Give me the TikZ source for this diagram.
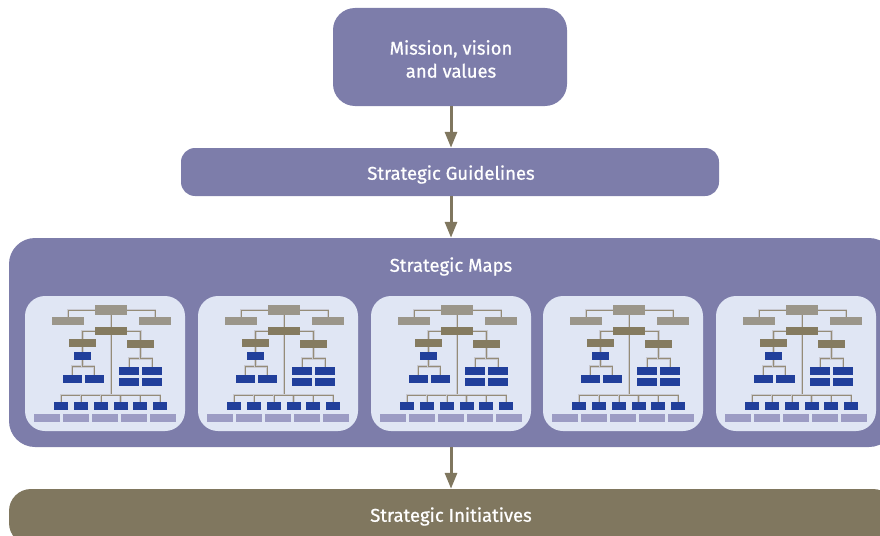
\documentclass[tikz,border=0pt]{standalone}
\usepackage{fontspec}
\setmainfont{Fira Sans}
\newfontfamily\labelfont{Fira Sans}[FakeBold=0.7]
\usetikzlibrary{arrows.meta}
\definecolor{stratpurple}{HTML}{7D7DAA}
\definecolor{stratolive}{HTML}{80775F}
\definecolor{panelbg}{HTML}{E0E6F4}
\definecolor{minigray}{HTML}{9B968A}
\definecolor{miniolive}{HTML}{857B60}
\definecolor{miniblue}{HTML}{213F9B}
\definecolor{minilav}{HTML}{9C9CC4}
\definecolor{miniline}{HTML}{958C78}
\definecolor{minishade}{HTML}{C9CAD2}

\tikzset{
  bigbox/.style={fill=stratpurple, text=white, inner sep=0pt, align=center,
    font=\labelfont\fontsize{18.5}{23}\selectfont},
  biglabel/.style={text=white, inner sep=0pt, font=\labelfont\fontsize{18.5}{23}\selectfont},
  flow/.style={draw=stratolive, line width=3pt,
    -{Triangle[width=12pt,length=16pt]}},
  mb/.style={inner sep=0pt, minimum height=8pt},
  mgray/.style={mb, fill=minigray},
  molive/.style={mb, fill=miniolive},
  mblue/.style={mb, fill=miniblue},
  mlav/.style={mb, fill=minilav},
  mline/.style={draw=miniline, line width=1pt,
    preaction={draw=minishade, line width=2.6pt}},
  minimap/.pic={
    % panel background
    \fill[panelbg] (0,0) [rounded corners=20pt] rectangle (160,135);
    % top level
    \node[mgray, minimum width=32pt, minimum height=10pt] (-t) at (86,14) {};
    \node[mgray, minimum width=32pt] (-ul) at (43,25) {};
    \node[mgray, minimum width=32pt] (-ur) at (130,25) {};
    \node[molive, minimum width=32pt] (-m) at (86,35) {};
    % second level
    \node[molive, minimum width=27pt] (-ol) at (57.5,47) {};
    \node[molive, minimum width=27pt] (-or) at (115.5,48) {};
    \node[mblue, minimum width=17pt] (-b1) at (57.5,60) {};
    \node[mblue, minimum width=19pt] (-b2) at (47,83) {};
    \node[mblue, minimum width=19pt] (-b3) at (69,83) {};
    \node[mblue, minimum width=20pt] (-r1) at (104,75) {};
    \node[mblue, minimum width=20pt] (-r2) at (127,75) {};
    \node[mblue, minimum width=20pt] (-r3) at (104,86) {};
    \node[mblue, minimum width=20pt] (-r4) at (127,86) {};
    % bottom rows
    \foreach \i/\x in {1/36,2/56,3/76,4/95.5,5/115,6/135}
      \node[mblue, minimum width=14pt] (-c\i) at (\x,110) {};
    \foreach \i/\x in {1/22,2/51,3/80,4/109,5/138}
      \node[mlav, minimum width=26pt] (-d\i) at (\x,122) {};
    \coordinate (-bus) at (86,99);
    % connectors
    \draw[mline] (-t.west) -| (-ul.north);
    \draw[mline] (-t.east) -| (-ur.north);
    \draw[mline] (-t.south) -- (-m.north);
    \draw[mline] (-m.west) -| (-ol.north);
    \draw[mline] (-m.east) -| (-or.north);
    \draw[mline] (-m.south) -- (-bus);
    \draw[mline] (-ol.south) -- (-b1.north);
    \draw[mline] (-b1.south) -- ++(0,6) -| (-b2.north);
    \draw[mline] (-b1.south) -- ++(0,6) -| (-b3.north);
    \draw[mline] (-or.south) -- ++(0,10) -| (-r1.north);
    \draw[mline] (-or.south) -- ++(0,10) -| (-r2.north);
    \foreach \i in {1,...,6}
      \draw[mline] (-bus) -| (-c\i.north);
    % boxes redrawn above the lines
    \node[mgray, minimum width=32pt, minimum height=10pt] at (-t) {};
    \node[mgray, minimum width=32pt] at (-ul) {};
    \node[mgray, minimum width=32pt] at (-ur) {};
    \node[molive, minimum width=32pt] at (-m) {};
    \node[molive, minimum width=27pt] at (-ol) {};
    \node[molive, minimum width=27pt] at (-or) {};
    \node[mblue, minimum width=17pt] at (-b1) {};
    \foreach \i in {1,...,6}
      \node[mblue, minimum width=14pt] at (-c\i) {};
  }
}

\begin{document}
\begin{tikzpicture}[x=1pt, y=-1pt]
  \useasboundingbox (0,0) rectangle (880,535);
  \clip (0,0) rectangle (880,535);

  % main flow
  \node[bigbox, minimum width=234pt, minimum height=98pt, rounded corners=22pt]
    (mission) at (450,57) {};
  \node[biglabel, align=center] (missiontext) at (451,59) {Mission, vision\\and values};
  \node[bigbox, minimum width=538pt, minimum height=48pt, rounded corners=14pt]
    (guide) at (450,172) {};
  \node[biglabel] (guidetext) at (451,174.5) {Strategic Guidelines};
  \node[bigbox, minimum width=886pt, minimum height=209pt, rounded corners=26pt]
    (maps) at (452,342.5) {};
  \node[biglabel] (mapstitle) at (451,266.5) {Strategic Maps};
  \node[bigbox, fill=stratolive, minimum width=886pt, minimum height=56pt, rounded corners=22pt]
    (init) at (452,517) {};
  \node[biglabel] (inittitle) at (451,516.5) {Strategic Initiatives};

  % connectors
  \draw[flow] (mission.south -| 451,0) -- (guide.north -| 451,0);
  \draw[flow] (guide.south -| 451,0) -- (maps.north -| 451,0);
  \draw[flow] (maps.south -| 451,0) -- (init.north -| 451,0);

  % five strategic maps
  \foreach \n/\x in {1/25,2/198,3/371,4/543,5/716}
    \pic (map\n) at (\x,296) {minimap};
\end{tikzpicture}
\end{document}
